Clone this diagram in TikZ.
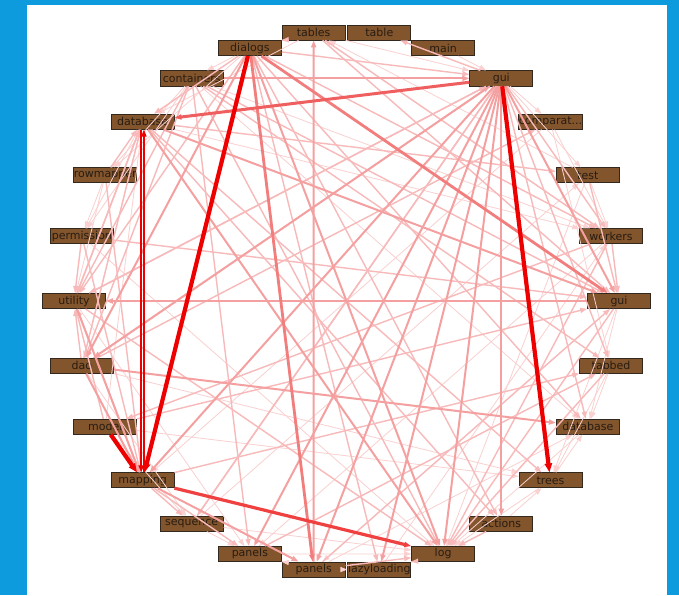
\documentclass[tikz,border=0pt]{standalone}
\usepackage{fontspec}
\newfontfamily\pkgfont{DejaVu Sans}
\usetikzlibrary{arrows.meta}
\definecolor{bgblue}{RGB}{14,155,222}
\definecolor{boxfill}{RGB}{130,85,45}
\definecolor{boxline}{RGB}{50,40,30}
\definecolor{boxtext}{RGB}{40,28,18}
\definecolor{pk0}{RGB}{250,208,208}
\definecolor{pk1}{RGB}{247,185,185}
\definecolor{pk2}{RGB}{245,160,160}
\definecolor{pk3}{RGB}{242,125,125}
\definecolor{pk4}{RGB}{240,95,95}
\definecolor{pk5}{RGB}{240,65,65}
\definecolor{rd}{RGB}{238,0,0}
\newcommand\pkgnode[3]{\node[pbox] (#1) at ({346.5+272.5*cos(#2*360/26)},{301-270.5*sin(#2*360/26)}) {#3};}
\begin{document}
\begin{tikzpicture}[x=1pt,y=-1pt,
  pbox/.style={draw=boxline,line width=0.8pt,fill=boxfill,minimum width=63pt,minimum height=15pt,inner sep=0pt,text=boxtext,font=\pkgfont\fontsize{11}{12}\selectfont},
  tip/.style={-{Triangle[length=7pt,width=5pt]}},
  e0/.style={tip,line width=0.8pt,draw=pk0},
  e1/.style={tip,line width=1.4pt,draw=pk1},
  e2/.style={tip,line width=2pt,draw=pk2},
  e3/.style={tip,line width=2.8pt,draw=pk3},
  e4/.style={tip,line width=3pt,draw=pk4},
  e5/.style={tip,line width=3.2pt,draw=pk5},
  erthin/.style={tip,line width=1.4pt,draw=rd},
  ered/.style={-{Triangle[length=9pt,width=7pt]},line width=4.2pt,draw=rd}]
\useasboundingbox (0,0) rectangle (679,595);
\fill[bgblue] (0,0) rectangle (679,595);
\fill[white] (27,5) rectangle (667,595);
\pkgnode{gr}{0}{gui}
\pkgnode{wk}{1}{workers}
\pkgnode{ts}{2}{test}
\pkgnode{cp}{3}{comparat...}
\pkgnode{gt}{4}{gui}
\pkgnode{mn}{5}{main}
\pkgnode{tb}{6}{table}
\pkgnode{tbs}{7}{tables}
\pkgnode{dl}{8}{dialogs}
\pkgnode{ct}{9}{containers}
\pkgnode{dbl}{10}{database}
\pkgnode{rm}{11}{rowmapper}
\pkgnode{pm}{12}{permission}
\pkgnode{ut}{13}{utility}
\pkgnode{dao}{14}{dao}
\pkgnode{md}{15}{model}
\pkgnode{mp}{16}{mapping}
\pkgnode{sq}{17}{sequence}
\pkgnode{pl}{18}{panels}
\pkgnode{pb}{19}{panels}
\pkgnode{lz}{20}{lazyloading}
\pkgnode{lg}{21}{log}
\pkgnode{ac}{22}{actions}
\pkgnode{tr}{23}{trees}
\pkgnode{dbr}{24}{database}
\pkgnode{tab}{25}{tabbed}
% thin edges
\foreach \s/\t in {mn/gt,tbs/dbl,gt/ts,gt/cp,wk/tbs,ts/tbs,cp/wk,ts/wk,ct/rm,ct/pm,dl/rm,dbl/dao,md/dbl,pm/dbl,rm/ut,sq/pl,pl/pb,pb/lz,pl/lg,sq/lg,dao/sq,md/sq,ut/pl,tr/dbr,tab/dbr,ac/tr,tab/tr,gr/tr,gr/dbr,dbr/lg,tr/lg,ts/lg,pm/lg,sq/ts,pb/dbr,lz/wk,md/tr,dao/tr,cp/mp,wk/pl,gr/pb,dl/ct,tbs/gt,ct/wk,ct/dbr,dbl/wk,cp/tab,rm/pm}
  \draw[e0] (\s) -- (\t);
% normal edges
\foreach \s/\t in {gt/tb,gt/ut,gt/sq,gt/dbr,gt/tab,gt/wk,rm/dbl,ut/dbl,dao/dbl,rm/mp,pm/mp,dbl/ut,pm/ut,md/ut,dao/ut,mp/ut,ct/ut,dl/ut,dl/dbl,dl/tbs,mp/sq,mp/pl,lz/lg,pb/lg,wk/gr,ts/gr,tab/lg,gr/lg,wk/lg,ac/lg,dbl/tr,dbl/ts,dbl/ac,ct/gr,ct/tab,ct/lg,ct/pl,ct/dao,dl/wk,dl/dbr,dl/lz,dl/ac,dl/gt,tbs/wk,tbs/gr,pm/gr,md/gr,wk/md,dao/cp,dao/gt,ut/gt,ut/lg,sq/gt,pl/tab,pb/gr,mp/tab}
  \draw[e1] (\s) -- (\t);
% medium edges
\foreach \s/\t in {dbl/gr,dao/dbr,gr/ut,gt/ac,pb/tbs,ct/gt,gt/lg,gt/pl,gt/pb,gt/lz,gt/mp,dbl/lg,dl/lg,gt/dao,ut/mp,dao/mp,mp/pb,gt/gr,dl/dao}
  \draw[e2] (\s) -- (\t);
% strong edges
\draw[e3] (dl) -- (pb);
\draw[e3] (dl) -- (gr);
\draw[e4] (gt) -- (dbl);
\draw[e5] (mp) -- (lg);
% red edges
\draw[erthin] ([xshift=-1.4pt]dbl.south) -- ([xshift=-1.4pt]mp.north);
\draw[erthin] ([xshift=1.4pt]mp.north) -- ([xshift=1.4pt]dbl.south);
\draw[ered] (md) -- (mp);
\draw[ered] (dl) -- (mp);
\draw[ered] (gt) -- (tr);
\end{tikzpicture}
\end{document}
